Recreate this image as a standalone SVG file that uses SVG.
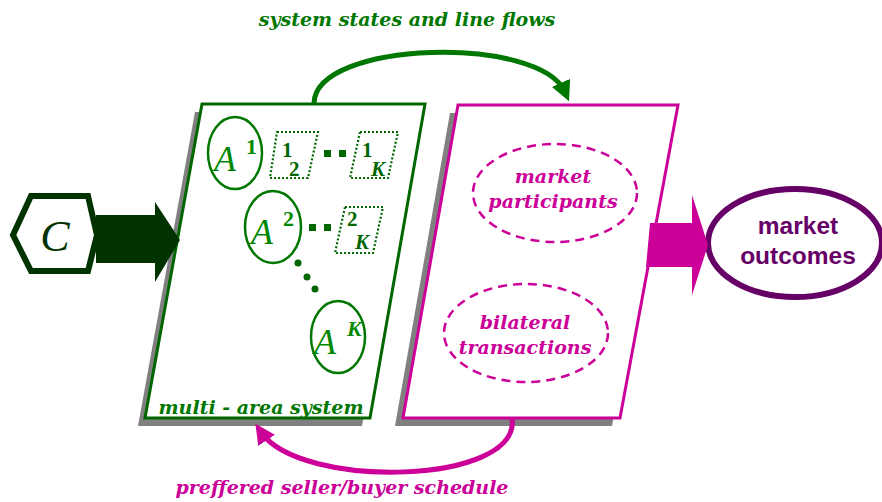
<svg xmlns="http://www.w3.org/2000/svg" width="882" height="502" viewBox="0 0 882 502">
  <style>
    .serif { font-family: "DejaVu Serif", "Liberation Serif", serif; font-weight: bold; font-style: italic; }
    .g-label { fill: #007700; font-size: 19px; }
    .p-label { fill: #cc0099; font-size: 19px; }
    .shadow { fill: #808080; }
    .area { fill: none; stroke: #007700; stroke-width: 2.5; }
    .dotbox { fill: none; stroke: #006600; stroke-width: 2.2; stroke-dasharray: 2 2; }
    .idx { fill: #006600; font-family: "Liberation Serif", "DejaVu Serif", serif; font-weight: bold; font-size: 21px; }
    .big-a { fill: #008800; font-family: "Liberation Serif", "DejaVu Serif", serif; font-style: italic; font-size: 36px; }
    .sup { fill: #008800; font-family: "Liberation Serif", "DejaVu Serif", serif; font-weight: bold; font-size: 22px; }
    .pdash { fill: none; stroke: #cc0099; stroke-width: 2.5; stroke-dasharray: 9 6; }
    .outcome { font-family: "Liberation Sans", Arial, sans-serif; font-weight: bold; font-size: 24.5px; fill: #660066; }
  </style>
  <defs>
    <marker id="headG" markerWidth="4" markerHeight="4" refX="2" refY="2" orient="auto" markerUnits="strokeWidth">
      <path d="M0,0 L4,2 L0,4 z" fill="#007700"/>
    </marker>
    <marker id="headP" markerWidth="4" markerHeight="4" refX="2" refY="2" orient="auto" markerUnits="strokeWidth">
      <path d="M0,0 L4,2 L0,4 z" fill="#cc0099"/>
    </marker>
  </defs>

  <rect width="882" height="502" fill="#ffffff"/>

  <!-- input hexagon -->
  <g id="input">
    <polygon points="13,235 31,196 88,196 97,235 88,271 31,271" fill="#ffffff" stroke="#003300" stroke-width="6"/>
    <text x="55" y="251" text-anchor="middle" style="font-family:'Liberation Serif','DejaVu Serif',serif;font-style:italic;font-size:44px;fill:#003300">C</text>
  </g>

  <!-- multi-area system block -->
  <g id="system">
    <polygon class="shadow" points="195,112 418,112 362,426 138,426"/>
    <polygon points="202,104 425,104 370,418 145,418" fill="#ffffff" stroke="#006600" stroke-width="3"/>
    <ellipse class="area" cx="235" cy="153" rx="27" ry="36"/>
    <ellipse class="area" cx="273" cy="227" rx="28" ry="36"/>
    <ellipse class="area" cx="338" cy="337" rx="27" ry="36"/>
    <text class="big-a" x="214" y="171">A</text>
    <text class="sup" x="246" y="154">1</text>
    <text class="big-a" x="251" y="244">A</text>
    <text class="sup" x="283" y="226">2</text>
    <text class="big-a" x="314" y="354">A</text>
    <text class="sup" x="347" y="336" font-style="italic">K</text>

    <polygon class="dotbox" points="277,132 318,132 308,178 270,178"/>
    <polygon class="dotbox" points="360,132 398,132 388,178 350,178"/>
    <polygon class="dotbox" points="345,207 383,207 373,253 335,253"/>
    <text class="idx" x="282" y="157">1</text>
    <text class="idx" x="289" y="176">2</text>
    <text class="idx" x="362" y="157">1</text>
    <text class="idx" x="371" y="176" font-style="italic">K</text>
    <text class="idx" x="347" y="226">2</text>
    <text class="idx" x="355" y="249" font-style="italic">K</text>

    <rect x="324" y="150" width="7" height="7" fill="#006600"/>
    <rect x="339" y="150" width="7" height="7" fill="#006600"/>
    <rect x="309" y="224" width="7" height="7" fill="#006600"/>
    <rect x="324" y="224" width="7" height="7" fill="#006600"/>
    <circle cx="298" cy="263" r="3.5" fill="#006600"/>
    <circle cx="307" cy="277" r="3.5" fill="#006600"/>
    <circle cx="315" cy="289" r="3.5" fill="#006600"/>

    <text class="serif g-label" x="261" y="414" text-anchor="middle">multi - area system</text>
  </g>

  <!-- market block -->
  <g id="market">
    <polygon class="shadow" points="450,113 670,113 612,426 395,426"/>
    <polygon points="458,105 678,105 620,418 403,418" fill="#ffffff" stroke="#cc0099" stroke-width="3"/>
    <ellipse class="pdash" cx="555" cy="193" rx="82" ry="49"/>
    <ellipse class="pdash" cx="526" cy="333" rx="82" ry="49"/>
    <text class="serif p-label" x="553" y="183" text-anchor="middle">market</text>
    <text class="serif p-label" x="553" y="208" text-anchor="middle">participants</text>
    <text class="serif p-label" x="525" y="329" text-anchor="middle">bilateral</text>
    <text class="serif p-label" x="525" y="354" text-anchor="middle">transactions</text>
  </g>

  <!-- outcomes -->
  <g id="outcomes">
    <ellipse cx="795" cy="243" rx="87" ry="54" fill="#ffffff" stroke="#660066" stroke-width="6"/>
    <text class="outcome" x="798" y="234" text-anchor="middle">market</text>
    <text class="outcome" x="798" y="264" text-anchor="middle">outcomes</text>
  </g>

  <!-- connectors -->
  <g id="connectors">
    <polygon points="96,215 155,215 155,202 180,240 155,282 155,263 96,263" fill="#003300"/>
    <polygon points="650,223 692,223 692,195 708,245 692,295 692,267 646,267" fill="#cc0099"/>
    <path d="M314,103 C316,40 540,35 565,92" fill="none" stroke="#007700" stroke-width="5" marker-end="url(#headG)"/>
    <path d="M512,418 C522,485 300,490 261,432" fill="none" stroke="#cc0099" stroke-width="5" marker-end="url(#headP)"/>
    <text class="serif g-label" x="407" y="26" text-anchor="middle" font-size="20">system states  and line flows</text>
    <text class="serif p-label" x="342" y="494" text-anchor="middle" font-size="21">preffered seller/buyer schedule</text>
  </g>
</svg>
